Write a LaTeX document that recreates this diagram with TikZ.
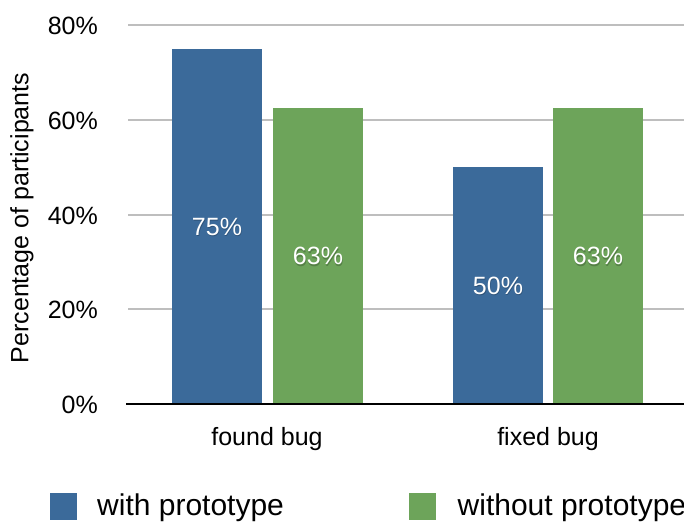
\documentclass[tikz,border=0pt]{standalone}
\usepackage{fontspec}
\setmainfont{Liberation Sans}
\definecolor{withproto}{HTML}{3B6A9A}
\definecolor{withoutproto}{HTML}{6DA45A}
\definecolor{gridgray}{HTML}{BEBEBE}
\begin{document}
\begin{tikzpicture}[x=1pt,y=-1pt,
  bar/.style={fill=#1, draw=none, inner sep=0pt, outer sep=0pt,
              anchor=south west, minimum width=90pt},
  gridline/.style={draw=gridgray, line width=2pt},
  axisline/.style={draw=black, line width=1.6pt},
  ticklabel/.style={font=\fontsize{25}{28}\selectfont, anchor=base east, inner sep=0pt},
  catlabel/.style={font=\fontsize{25}{28}\selectfont, anchor=base, inner sep=0pt},
  vallabel/.style={font=\fontsize{25}{28}\selectfont, text=white, anchor=base, inner sep=0pt},
  valshadow/.style={font=\fontsize{25}{28}\selectfont, text=black, opacity=0.22, anchor=base, inner sep=0pt},
  legendtext/.style={font=\fontsize{30}{34}\selectfont, anchor=base west, inner sep=0pt},
]
% canvas
\useasboundingbox (0,0) rectangle (684,522);

% horizontal grid (4.7375pt per percent, zero at y=404)
\foreach \v in {20,40,60,80} {
  \draw[gridline] (128,{404-4.7375*\v}) -- (684,{404-4.7375*\v});
  \node[ticklabel] at (98,{404-4.7375*\v+9.5}) {\v\%};
}
\node[ticklabel] (t0) at (98,413.5) {0\%};

% bars
\node[bar=withproto,    minimum height={4.7375pt*75}]   (b1) at (172,404) {};
\node[bar=withoutproto, minimum height={4.7375pt*62.5}] (g1) at (273,404) {};
\node[bar=withproto,    minimum height={4.7375pt*50}]   (b2) at (453,404) {};
\node[bar=withoutproto, minimum height={4.7375pt*62.5}] (g2) at (553,404) {};

% base axis
\draw[axisline] (126,404) -- (684,404);

% value labels with a soft drop shadow
\foreach \b/\t in {b1/75, g1/63, b2/50, g2/63} {
  \node[valshadow] at ([xshift=0.6pt,yshift=-10.2pt]\b.center) {\t\%};
  \node[vallabel] (l\b) at ([yshift=-9pt]\b.center) {\t\%};
}

% category labels
\node[catlabel] (c1) at (267,445) {found bug};
\node[catlabel] (c2) at (548,445) {fixed bug};

% axis title
\node[font=\fontsize{25}{28}\selectfont, rotate=90, inner sep=0pt] (ytitle) at (22,218) {Percentage of participants};

% legend
\fill[withproto] (50,493) rectangle (77,520);
\node[legendtext] (lg1) at (97,515) {with prototype};
\fill[withoutproto] (409,493) rectangle (436,520);
\node[legendtext] (lg2) at (457.5,515) {without prototype};
\end{tikzpicture}
\end{document}
